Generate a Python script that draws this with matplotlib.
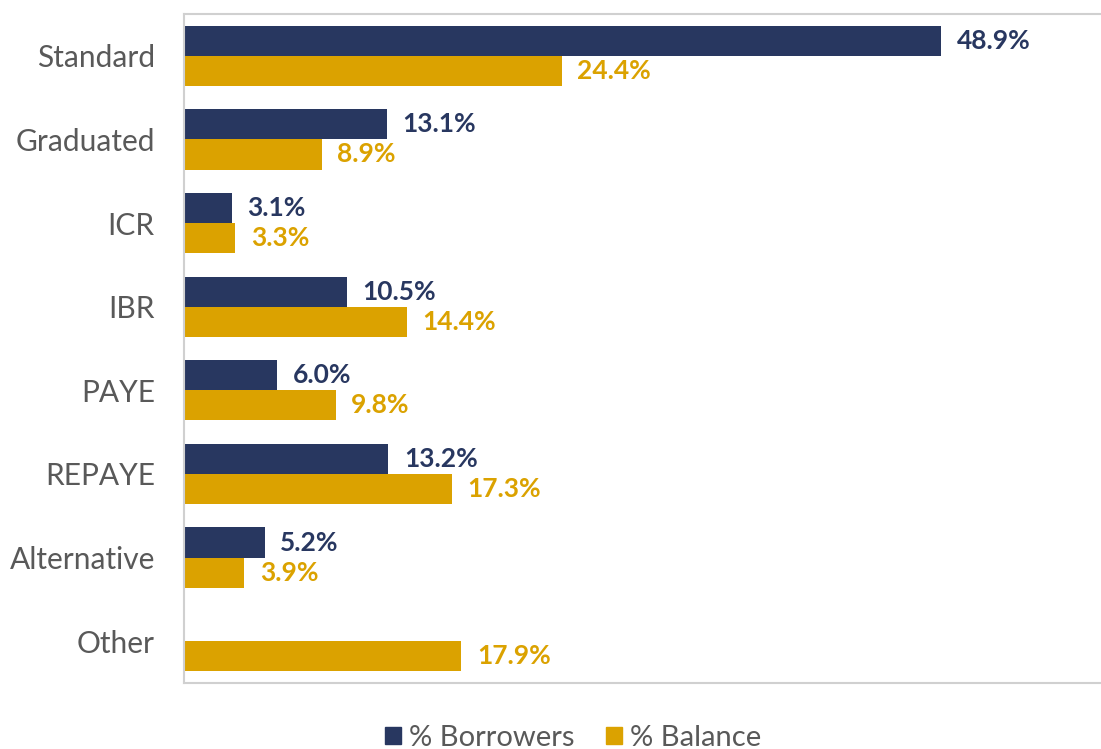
import matplotlib
matplotlib.use('Agg')
import matplotlib.pyplot as plt
import numpy as np
from matplotlib.patches import Patch

plt.rcParams['font.family'] = ['Lato', 'DejaVu Sans']

categories = ['Standard', 'Graduated', 'ICR', 'IBR', 'PAYE', 'REPAYE', 'Alternative', 'Other']
borrowers = [48.9, 13.1, 3.1, 10.5, 6.0, 13.2, 5.2, np.nan]
balance = [24.4, 8.9, 3.3, 14.4, 9.8, 17.3, 3.9, 17.9]

navy = '#283760'
gold = '#dba200'
grey = '#595959'

fig = plt.figure(figsize=(11.01, 7.49), dpi=100)
ax = fig.add_axes([184 / 1101, 1 - 683 / 749, 1 - 184 / 1101, (683 - 14) / 749])

y = np.arange(len(categories))
h = 0.36
ax.barh(y - h / 2, borrowers, height=h, color=navy)
ax.barh(y + h / 2, balance, height=h, color=gold)

for yi, v in zip(y, borrowers):
    if not np.isnan(v):
        ax.text(v + 1.0, yi - h / 2, f'{v:.1f}%', va='center', ha='left',
                color=navy, fontsize=19, fontweight='bold')
for yi, v in zip(y, balance):
    ax.text(v + 1.0, yi + h / 2, f'{v:.1f}%', va='center', ha='left',
            color=gold, fontsize=19, fontweight='bold')

ax.set_ylim(len(categories) - 0.5, -0.5)
ax.set_xlim(0, 59.2)
ax.set_yticks(y)
ax.set_yticklabels(categories, fontsize=21.5, color=grey)
ax.tick_params(axis='y', length=0, pad=21)
ax.set_xticks([])

for side in ['left', 'top', 'bottom']:
    ax.spines[side].set_color('#d0d0d0')
    ax.spines[side].set_linewidth(1.5)
ax.spines['right'].set_visible(False)

handles = [Patch(color=navy, label='% Borrowers'), Patch(color=gold, label='% Balance')]
fig.legend(handles=handles, loc='center', bbox_to_anchor=(0.5205, 1 - 738 / 749), ncol=2,
           frameon=False, fontsize=21, labelcolor=grey, handlelength=0.55, handleheight=0.55,
           handletextpad=0.3, columnspacing=1.05)

fig.savefig('out.png', dpi=100)
